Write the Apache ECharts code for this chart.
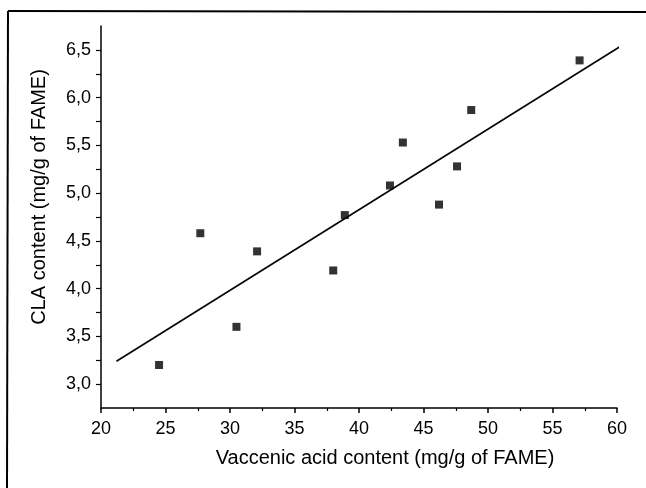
<!DOCTYPE html>
<html>
<head>
<meta charset="utf-8">
<script src="https://cdn.jsdelivr.net/npm/echarts@6/dist/echarts.min.js"></script>
<style>
  html, body { margin: 0; padding: 0; background: #fff; }
  #chart { width: 646px; height: 488px; }
</style>
</head>
<body>
<div id="chart"></div>
<script>
// measured points (vaccenic acid, CLA)
var vaccenic = [24.5, 27.7, 30.5, 32.1, 38.0, 38.9, 42.4, 43.4, 46.2, 47.6, 48.7, 57.1];
var cla = [3.20, 4.58, 3.60, 4.39, 4.19, 4.77, 5.08, 5.53, 4.88, 5.28, 5.87, 6.39];
// regression line end points
var fitX = [21.2, 60.3];
var fitY = [3.24, 6.54];

var points = vaccenic.map(function (x, i) { return [x, cla[i]]; });
var fitLine = fitX.map(function (x, i) { return [x, fitY[i]]; });

var myChart = echarts.init(document.getElementById('chart'));
var font = 'Liberation Sans, Arial, sans-serif';

var option = {
    backgroundColor: '#fff',
    animation: false,
    grid: { left: 101, right: 29, top: 26, bottom: 80 },
    // frame of the scanned figure (top and left edge)
    graphic: [
        { type: 'line', shape: { x1: 8, y1: 11, x2: 646, y2: 12 }, style: { stroke: '#000', lineWidth: 2 } },
        { type: 'line', shape: { x1: 8, y1: 11, x2: 7, y2: 488 }, style: { stroke: '#000', lineWidth: 2 } }
    ],
    xAxis: {
        type: 'value',
        min: 20,
        max: 60,
        interval: 5,
        name: 'Vaccenic acid content (mg/g of FAME)',
        nameLocation: 'middle',
        nameGap: 40,
        nameTextStyle: { fontFamily: font, fontSize: 20, color: '#000', padding: [0, 0, 0, 52] },
        axisLine: { onZero: false, lineStyle: { color: '#000', width: 1.5 } },
        axisTick: { show: true, inside: false, length: 5, lineStyle: { color: '#000', width: 1.5 } },
        minorTick: { show: true, splitNumber: 2, length: 3, lineStyle: { color: '#000', width: 1.2 } },
        axisLabel: { fontFamily: font, fontSize: 18, color: '#000', margin: 12 },
        splitLine: { show: false }
    },
    yAxis: {
        type: 'value',
        min: 2.75,
        max: 6.75,
        interval: 0.25,
        name: 'CLA content (mg/g of FAME)',
        nameLocation: 'middle',
        nameGap: 52,
        nameTextStyle: { fontFamily: font, fontSize: 20, color: '#000', padding: [0, 0, 0, 40] },
        axisLine: { show: true, onZero: false, lineStyle: { color: '#000', width: 1.5 } },
        axisTick: { show: true, inside: false, length: 5, lineStyle: { color: '#000', width: 1.2 } },
        axisLabel: {
            fontFamily: font,
            fontSize: 18,
            color: '#000',
            margin: 10,
            showMinLabel: false,
            showMaxLabel: false,
            formatter: function (v) {
                if (Math.abs(v * 2 - Math.round(v * 2)) > 1e-6) return '';
                return v.toFixed(1).replace('.', ',');
            }
        },
        splitLine: { show: false }
    },
    series: [
        {
            name: 'fit',
            type: 'line',
            data: fitLine,
            clip: false,
            symbol: 'none',
            lineStyle: { color: '#000', width: 1.6 },
            z: 2
        },
        {
            name: 'data',
            type: 'scatter',
            data: points,
            symbol: 'rect',
            symbolSize: 8,
            itemStyle: { color: '#000' },
            z: 3
        }
    ]
};

if (option && typeof option === "object") {
    myChart.setOption(option, true);
}
</script>
</body>
</html>
